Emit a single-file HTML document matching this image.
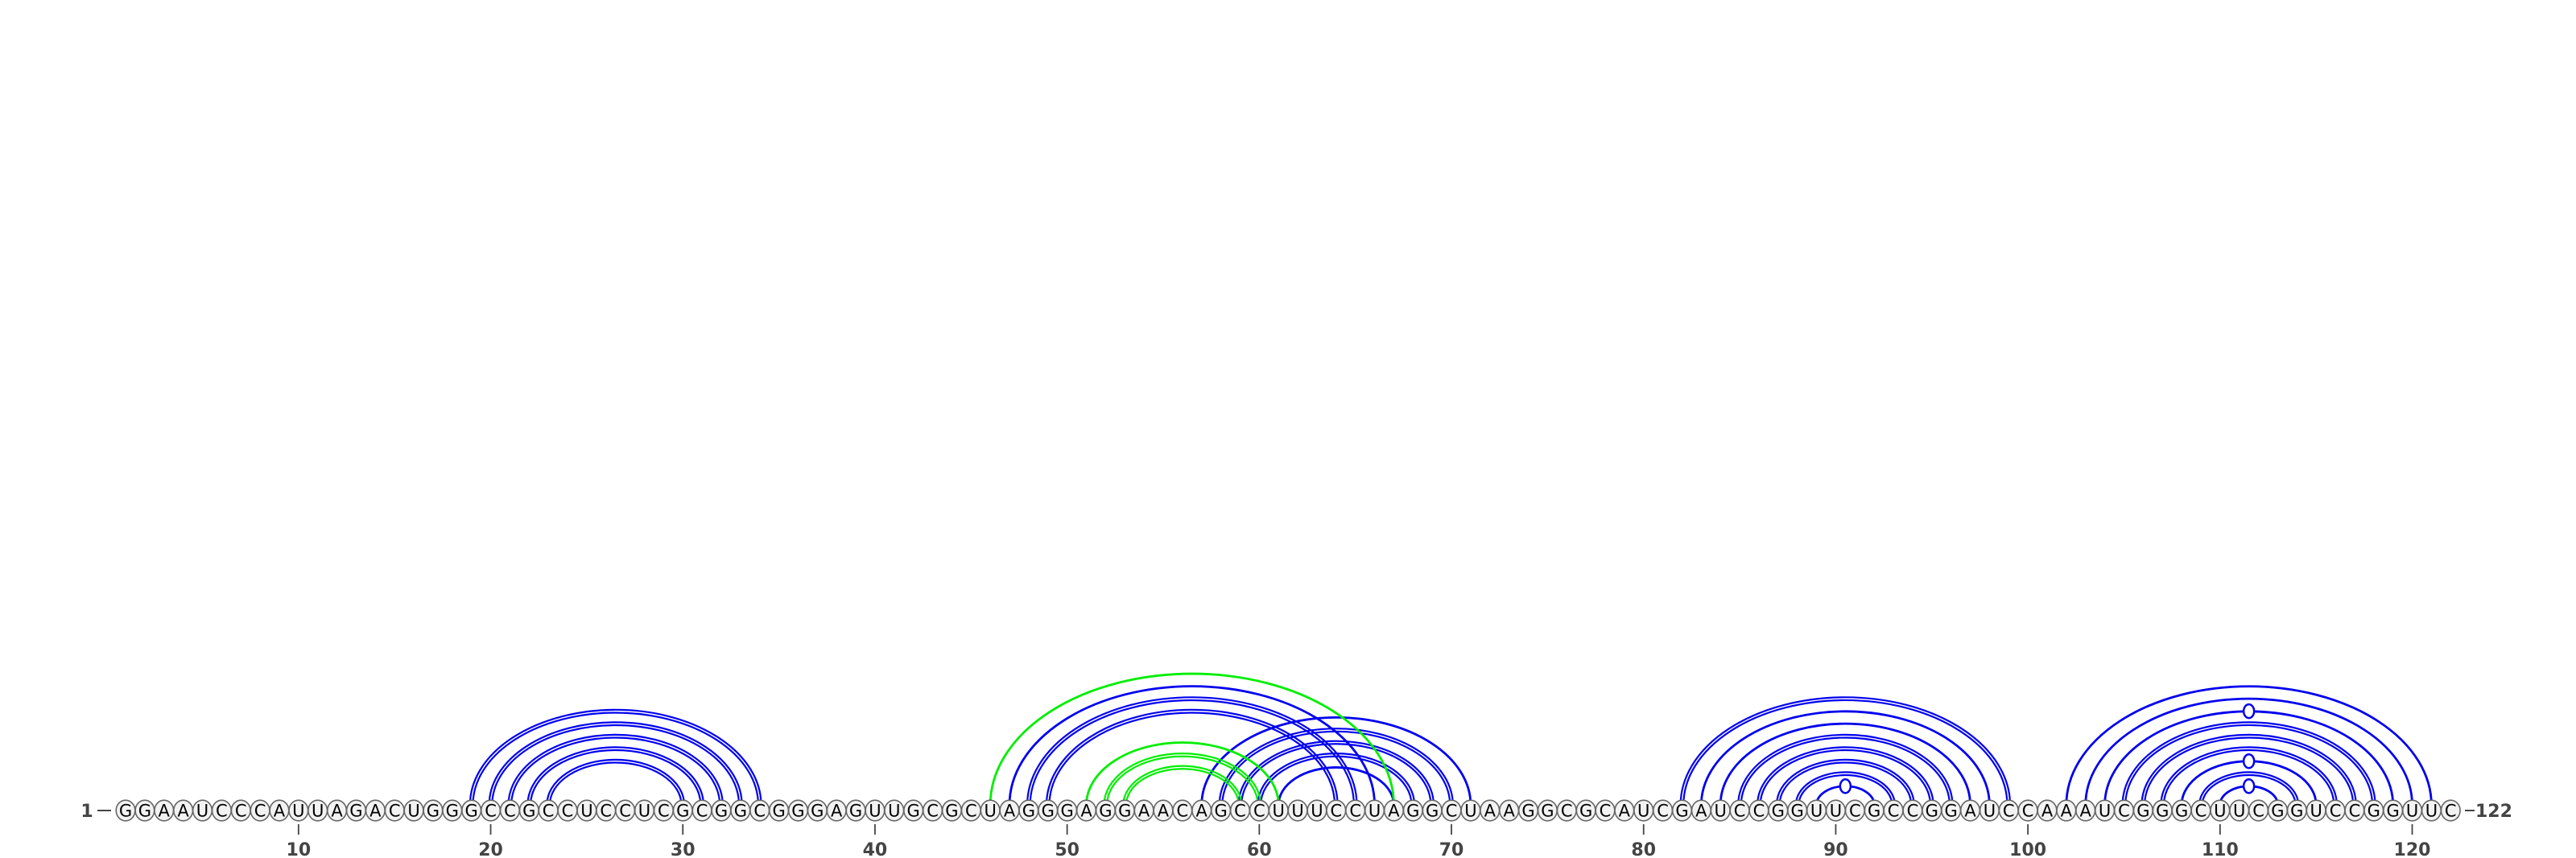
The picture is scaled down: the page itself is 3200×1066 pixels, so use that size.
<!DOCTYPE html>
<html><head><meta charset="utf-8"><style>
html,body{margin:0;padding:0;background:#fff;}
svg{display:block;}
text{font-family:"DejaVu Sans","Liberation Sans",sans-serif;}
</style></head><body>
<svg id="chart" width="3200" height="1066" viewBox="0 0 3200 1066">
<g id="arcs"></g>
<g id="bases"></g>
<g id="ticks"></g>
<text x="108" y="1015" font-size="22" font-weight="bold" fill="#444" text-anchor="middle">1</text>
<line x1="121" y1="1007" x2="138" y2="1007" stroke="#444" stroke-width="2"/>
<line x1="3062" y1="1007" x2="3074" y2="1007" stroke="#444" stroke-width="2"/>
<text x="3075" y="1015" font-size="22" font-weight="bold" fill="#444">122</text>
</svg>
<script>
const sequence = "GGAAUCCCAUUAGACUGGGCCGCCUCCUCGCGGCGGGAGUUGCGCUAGGGAGGAACAGCCUUUCCUAGGCUAAGGCGCAUCGAUCCGGUUCGCCGGAUCCAAAUCGGGCUUCGGUCCGGUUC";
const bluePairs = [[19,34],[20,33],[21,32],[22,31],[23,30],[47,66],[48,65],[49,64],[57,71],[58,70],[59,69],[60,68],[61,67],
  [82,99],[83,98],[84,97],[85,96],[86,95],[87,94],[88,93],[89,92],
  [102,121],[103,120],[104,119],[105,118],[106,117],[107,116],[108,115],[109,114],[110,113]];
const greenPairs = [[46,67],[51,61],[52,60],[53,59]];
const tickPositions = [10,20,30,40,50,60,70,80,90,100,110,120];

const NS = "http://www.w3.org/2000/svg";
const x = i => 156 + (i - 1) * 23.87;
const baseY = 1007, arcY = 1000, k = 0.65;
const arcsG = document.getElementById('arcs');
const basesG = document.getElementById('bases');
const ticksG = document.getElementById('ticks');

function mk(tag, attrs){const e=document.createElementNS(NS,tag);for(const a in attrs)e.setAttribute(a,attrs[a]);return e;}

function drawPair(p, color){
  const a = p[0], b = p[1];
  const s = sequence[a-1] + sequence[b-1];
  const gc = (s === "GC" || s === "CG");
  const gu = (s === "GU" || s === "UG");
  const cx = (x(a) + x(b)) / 2, rx = (x(b) - x(a)) / 2, ry = rx * k;
  const offs = gc ? [-1.8, 1.8] : [0];
  offs.forEach(o => {
    const r1 = rx + o, r2 = ry + o;
    const path = mk('path', {d:`M${cx-r1},${arcY+6} L${cx-r1},${arcY} A${r1},${r2} 0 0 1 ${cx+r1},${arcY} L${cx+r1},${arcY+6}`, fill:'none', stroke:color, 'stroke-width': gc ? 2.2 : 2.8});
    
    
    arcsG.appendChild(path);
  });
  if (gu) {
    const m = mk('ellipse', {cx:cx, cy:arcY-ry, rx:6.5, ry:8.5, fill:'#fff', stroke:color, 'stroke-width':2.5});
    
    
    arcsG.appendChild(m);
  }
}
bluePairs.forEach(p => drawPair(p, '#0000ee'));
greenPairs.forEach(p => drawPair(p, '#00ee00'));

for (let i = 1; i <= sequence.length; i++) {
  const c = mk('ellipse', {cx:x(i), cy:baseY, rx:11.8, ry:12.8, fill:'#f2f2f2', stroke:'#666', 'stroke-width':1.6});
  
  
  basesG.appendChild(c);
  const t = mk('text', {x:x(i), y:baseY+7.5, 'font-size':21, 'text-anchor':'middle', fill:'#000'});
  
  
  t.textContent = sequence[i-1];
  basesG.appendChild(t);
}
tickPositions.forEach(p => {
  const l = mk('line', {x1:x(p), y1:1024, x2:x(p), y2:1037, stroke:'#444', 'stroke-width':1.8});
  
  
  ticksG.appendChild(l);
  const t = mk('text', {x:x(p), y:1063, 'font-size':22, 'font-weight':'bold', 'text-anchor':'middle', fill:'#444'});
  
  
  t.textContent = p;
  ticksG.appendChild(t);
});
</script>
</body></html>
